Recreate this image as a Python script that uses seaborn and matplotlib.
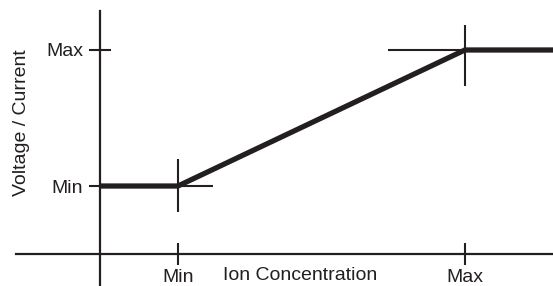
import matplotlib
matplotlib.use("Agg")
import matplotlib.pyplot as plt
import seaborn as sns
import pandas as pd

# schematic response curve: flat at Min, linear ramp, flat at Max
concentration = [0.0, 1.0, 4.68, 5.9]
response = [1.0, 1.0, 3.0, 3.0]
x_ticks = [1.0, 4.68]
x_tick_labels = ["Min", "Max"]
y_ticks = [1.0, 3.0]
y_tick_labels = ["Min", "Max"]
x_label = "Ion Concentration"
y_label = "Voltage / Current"

df = pd.DataFrame({"conc": concentration, "resp": response})

sns.set_style("white")
plt.rcParams["font.family"] = ["Liberation Sans", "DejaVu Sans"]

fig = plt.figure(figsize=(5.53, 2.86), dpi=100)
ax = fig.add_axes([0, 0, 1, 1])
ax.set_xlim(-1.282, 5.81)
ax.set_ylim(-0.47, 3.735)

ink = "#231f20"
sns.lineplot(data=df, x="conc", y="resp", ax=ax, color=ink, lw=3.8,
             solid_capstyle="butt", zorder=3)

# crosshairs at the Min and Max breakpoints
ax.vlines(concentration[1], response[1] - 0.38, response[1] + 0.4, color=ink, lw=1.5, zorder=2)
ax.hlines(response[1], concentration[1] - 0.45, concentration[1] + 0.45, color=ink, lw=1.5, zorder=2)
ax.vlines(concentration[2], response[2] - 0.53, response[2] + 0.37, color=ink, lw=1.5, zorder=2)
ax.hlines(response[2], concentration[2] - 0.99, concentration[2] + 0.6, color=ink, lw=1.5, zorder=2)

# axes crossing at the origin
for s in ["top", "right"]:
    ax.spines[s].set_visible(False)
ax.spines["left"].set_position(("data", 0))
ax.spines["bottom"].set_position(("data", 0))
ax.spines["left"].set_bounds(-0.47, 3.58)
ax.spines["bottom"].set_bounds(-1.08, 5.81)
for s in ["left", "bottom"]:
    ax.spines[s].set_color(ink)
    ax.spines[s].set_linewidth(1.6)

ax.set_xticks(x_ticks, x_tick_labels)
ax.set_yticks(y_ticks, y_tick_labels)
ax.tick_params(axis="both", direction="inout", length=16, width=1.5,
               color=ink, labelcolor=ink, labelsize=14,
               bottom=True, left=True)
ax.tick_params(axis="y", pad=4)
ax.tick_params(axis="x", pad=2.5)

ax.set_xlabel(x_label, fontsize=14, color=ink)
ax.set_ylabel(y_label, fontsize=14, color=ink)
ax.xaxis.set_label_coords(300 / 553, 10 / 286)
ax.yaxis.set_label_coords(22 / 553, 163 / 286)
ax.xaxis.label.set_verticalalignment("center")
ax.yaxis.label.set_verticalalignment("center")

fig.savefig("out.png", dpi=100)
